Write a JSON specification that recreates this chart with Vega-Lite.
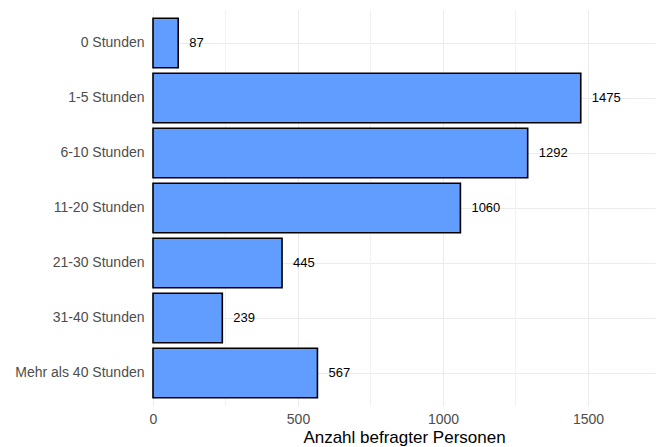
{
  "$schema": "https://vega.github.io/schema/vega-lite/v6.json",
  "width": 502,
  "height": 396,
  "autosize": {"type": "none"},
  "padding": {"left": 153, "top": 10, "right": 8, "bottom": 41},
  "background": "white",
  "config": {
    "view": {"stroke": null},
    "font": "Liberation Sans",
    "axis": {"domain": false, "ticks": false}
  },
  "data": {
    "values": [
      {"kategorie": "0 Stunden", "anzahl": 87},
      {"kategorie": "1-5 Stunden", "anzahl": 1475},
      {"kategorie": "6-10 Stunden", "anzahl": 1292},
      {"kategorie": "11-20 Stunden", "anzahl": 1060},
      {"kategorie": "21-30 Stunden", "anzahl": 445},
      {"kategorie": "31-40 Stunden", "anzahl": 239},
      {"kategorie": "Mehr als 40 Stunden", "anzahl": 567}
    ]
  },
  "encoding": {
    "y": {
      "field": "kategorie",
      "type": "nominal",
      "sort": null,
      "scale": {"paddingInner": 0.1, "paddingOuter": 0.15},
      "axis": {
        "title": null,
        "grid": true,
        "bandPosition": 0.5,
        "gridColor": "#EBEBEB",
        "gridWidth": 1,
        "labelFontSize": 14,
        "labelColor": "#4D4D4D",
        "labelPadding": 9
      }
    },
    "x": {
      "field": "anzahl",
      "type": "quantitative",
      "scale": {"domain": [0, 1731], "nice": false, "zero": true},
      "axis": {
        "title": "Anzahl befragter Personen",
        "values": [0, 500, 1000, 1500],
        "format": "d",
        "labelFlush": false,
        "grid": true,
        "gridColor": "#EBEBEB",
        "gridWidth": 1,
        "labelFontSize": 14,
        "labelColor": "#4D4D4D",
        "labelPadding": 6,
        "titleFontSize": 17,
        "titleFontWeight": "normal",
        "titleColor": "#000000",
        "titlePadding": 3
      }
    }
  },
  "layer": [
    {
      "mark": {"type": "rule", "color": "#F2F2F2", "strokeWidth": 1},
      "data": {"values": [{"v": 250}, {"v": 750}, {"v": 1250}]},
      "encoding": {
        "x": {"field": "v", "type": "quantitative"},
        "y": {"value": 0},
        "y2": {"value": 396}
      }
    },
    {
      "mark": {"type": "bar", "color": "#619CFF", "stroke": "black", "strokeWidth": 1.6}
    },
    {
      "mark": {"type": "text", "align": "left", "baseline": "middle", "dx": 11, "fontSize": 13, "color": "black"},
      "encoding": {
        "text": {"field": "anzahl", "type": "quantitative", "format": "d"}
      }
    }
  ]
}
